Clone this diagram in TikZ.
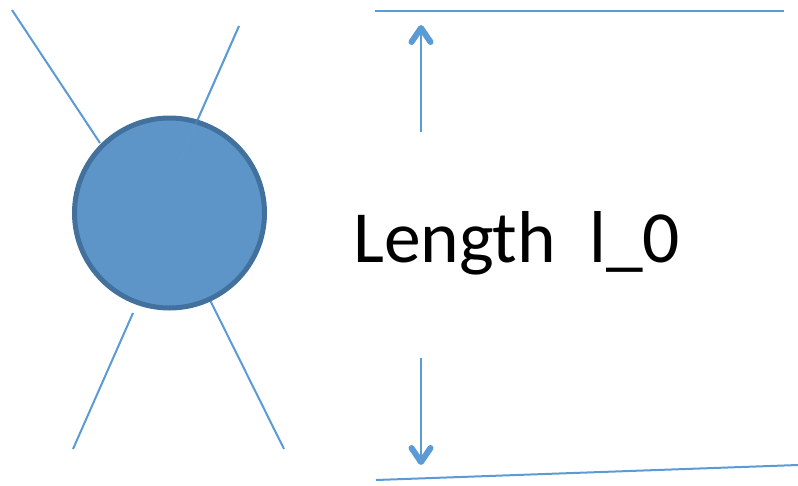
\documentclass[tikz,border=0pt]{standalone}
\usepackage{fontspec}
\setmainfont{Carlito}
\usetikzlibrary{arrows.meta}
\definecolor{lineblue}{HTML}{5B9BD5}
\definecolor{ballfill}{HTML}{5E95C8}
\definecolor{balledge}{HTML}{41719C}
\tikzset{
  ray/.style = {lineblue, line width = 2pt},
  wall/.style = {lineblue, line width = 2pt},
  gauge/.style = {lineblue, line width = 2pt,
    -{Straight Barb[length = 14pt, width = 19pt, line width = 6pt, round]}},
}
\begin{document}
\begin{tikzpicture}[x = 1pt, y = -1pt]
  \useasboundingbox (0,0) rectangle (798,485);
  \foreach \a/\b/\c/\d in {12/10/100/143, 239/26/179/162, 133/313/73/449, 209/298/284/449} {
    \coordinate (p) at (\a,\b);
    \coordinate (q) at (\c,\d);
    \draw [ray] (p) -- (q);
  }
  \node (ball) [circle, inner sep = 0, minimum size = 190pt, fill = ballfill,
    draw = balledge, line width = 5pt] at (169.5,213) {};
  % faint part of the ray over the ball
  \coordinate (ra) at (239,26); \coordinate (rb) at (179,162);
  \draw [ray, opacity = .3] (ra) -- (rb);
  \coordinate (tl) at (375,11);  \coordinate (tr) at (784,11);
  \coordinate (bl) at (376,480); \coordinate (br) at (798,465);
  \draw [wall] (tl) -- (tr);
  \draw [wall] (bl) -- (br);
  \node (len) [anchor = base west, inner sep = 0, font = \fontsize{73.5}{80}\selectfont]
    at (353,262) {Length\ \ l\_0};
  \coordinate (upfoot) at (421,132); \coordinate (uptip) at (421,25);
  \coordinate (dnfoot) at (421,358); \coordinate (dntip) at (421,465);
  \draw [gauge] (upfoot) -- (uptip);
  \draw [gauge] (dnfoot) -- (dntip);
\end{tikzpicture}
\end{document}
